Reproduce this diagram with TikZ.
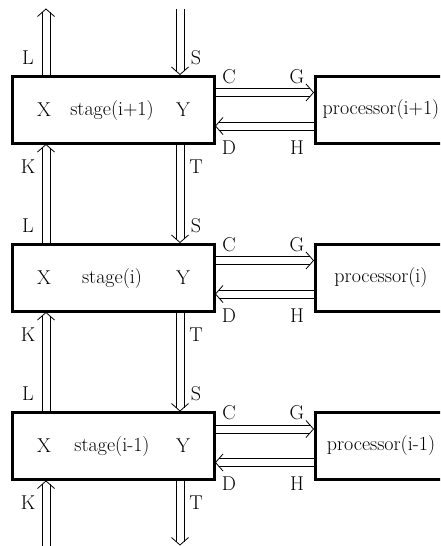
\documentclass[tikz,border=0pt]{standalone}
\usetikzlibrary{decorations.markings}
\begin{document}
\begin{tikzpicture}[x=1pt,y=-1pt,
  font=\fontsize{20}{23}\selectfont,
  unitbox/.style={draw, line width=3pt, rectangle, minimum height=67pt, inner sep=0pt},
  stagebox/.style={unitbox, minimum width=202pt},
  procbox/.style={unitbox, minimum width=132pt},
  % a two-rail channel with an open chevron at its end
  dbl/.style={decoration={markings, mark=at position 1 with {
      \draw[line width=0.8pt] (-\pgfdecoratedpathlength,3.9pt) -- (-3.2pt,3.9pt);
      \draw[line width=0.8pt] (-\pgfdecoratedpathlength,-3.9pt) -- (-3.2pt,-3.9pt);
      \draw[line width=0.8pt, line join=miter] (-7.5pt,8.5pt) -- (0pt,0pt) -- (-7.5pt,-8.5pt);}},
    decorate},
  lbl/.style={inner sep=0pt}
]
\useasboundingbox (0,0) rectangle (440,546);
\clip (0,0) rectangle (440,546);

% stages and their processors, one row per level
\foreach \n/\y/\tag in {top/109.5/i+1, mid/277.5/i, bot/446/i-1}{
  \node[stagebox] (s\n) at (113,\y) {};
  \node[lbl] (x\n) at (44,\y) {X};
  \node[lbl] (t\n) at (112,\y+1) {stage(\tag)};
  \node[lbl] (y\n) at (183,\y) {Y};
  \node[procbox] (p\n) at (381,\y) {};
  \node[lbl] (pt\n) at (381,\y) {processor(\tag)};
  % stage <-> processor channels
  \coordinate (cu\n) at ([yshift=17pt]s\n.east);
  \coordinate (pu\n) at ([yshift=17pt]p\n.west);
  \coordinate (cd\n) at ([yshift=-16.5pt]s\n.east);
  \coordinate (pd\n) at ([yshift=-16.5pt]p\n.west);
  \path[dbl] (cu\n) -- (pu\n);
  \path[dbl] (pd\n) -- (cd\n);
  \node[lbl] (C\n) at (229,\y-33) {C};
  \node[lbl] (G\n) at (297,\y-33) {G};
  \node[lbl] (D\n) at (229,\y+38) {D};
  \node[lbl] (H\n) at (297,\y+38) {H};
  % labels on the vertical links
  \node[lbl] (L\n) at (28,\y-52) {L};
  \node[lbl] (S\n) at (196,\y-52) {S};
  \node[lbl] (K\n) at (28,\y+57) {K};
  \node[lbl] (T\n) at (196,\y+57) {T};
}

% vertical links between neighbouring stages
\coordinate (ltop) at (46,9);
\coordinate (rtop) at (180,9);
\coordinate (lbot) at (46,546);
\coordinate (rbot) at (180,545);

\path[dbl] (stop.north -| ltop) -- (ltop);
\path[dbl] (rtop) -- (stop.north -| rtop);
\path[dbl] (smid.north -| ltop) -- (stop.south -| ltop);
\path[dbl] (stop.south -| rtop) -- (smid.north -| rtop);
\path[dbl] (sbot.north -| ltop) -- (smid.south -| ltop);
\path[dbl] (smid.south -| rtop) -- (sbot.north -| rtop);
\path[dbl] (lbot) -- (sbot.south -| ltop);
\path[dbl] (sbot.south -| rtop) -- (rbot);
\end{tikzpicture}
\end{document}
